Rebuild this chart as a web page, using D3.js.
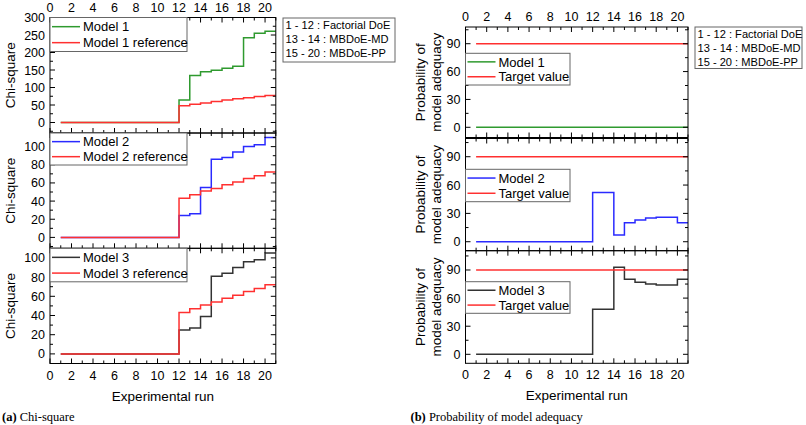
<!DOCTYPE html>
<html><head><meta charset="utf-8">
<script src="https://cdn.jsdelivr.net/npm/d3@7"></script>
<style>
body{margin:0;background:#fff;overflow:hidden;}
svg{display:block;font-family:"Liberation Sans",Arial,sans-serif;}
</style></head><body>
<svg id="chart" width="806" height="425"></svg>
<script>
// ---- data ----
const runs = [1,2,3,4,5,6,7,8,9,10,11,12,13,14,15,16,17,18,19,20];
const xTicks = [0,2,4,6,8,10,12,14,16,18,20];
const chiModel1 = [0,0,0,0,0,0,0,0,0,0,0,64,134,145,149,155,161,242,255,261];
const chiRef1   = [0,0,0,0,0,0,0,0,0,0,0,48,52,56,60,64,68,71,74,77];
const chiModel2 = [0,0,0,0,0,0,0,0,0,0,0,24,26,55,86,88,94,100,102,110];
const chiRef2   = [0,0,0,0,0,0,0,0,0,0,0,43,47,51,54,58,61,65,68,72];
const chiModel3 = [0,0,0,0,0,0,0,0,0,0,0,25,27,39,81,84,90,96,98,105];
const chiRef3   = [0,0,0,0,0,0,0,0,0,0,0,43,47,51,54,58,61,65,68,72];
const probModel1 = [0,0,0,0,0,0,0,0,0,0,0,0,0,0,0,0,0,0,0,0];
const probModel2 = [0,0,0,0,0,0,0,0,0,0,0,52,52,7,20,23,25,26,26,20];
const probModel3 = [0,0,0,0,0,0,0,0,0,0,0,48,48,93,80,77,75,74,74,80];
const targetValue = [90,90,90,90,90,90,90,90,90,90,90,90,90,90,90,90,90,90,90,90];
const chiTicks1 = [0,50,100,150,200,250,300];
const chiTicks23 = [0,20,40,60,80,100];
const probTicks = [0,30,60,90];
const phaseLabels = ["1 - 12 : Factorial DoE","13 - 14 : MBDoE-MD","15 - 20 : MBDoE-PP"];

const C = {green:"#2f9a2f", red:"#ff3030", blue:"#2a2aff", black:"#333333"};

const svg = d3.select("#chart");

// ---- layout ----
const left = {x0:50, x1:275.8};
const right = {x0:465.5, x1:688};

const panels = [
 {side:left, top:17.5, bot:133, dom:[-30,300], ticks:chiTicks1, minor:25,
  series:[{n:"Model 1",v:chiModel1,c:C.green},{n:"Model 1 reference",v:chiRef1,c:C.red}],
  leg:{y:17.5,h:34, w:137}, topLabels:true},
 {side:left, top:133, bot:248.3, dom:[-12,115], ticks:chiTicks23, minor:10,
  series:[{n:"Model 2",v:chiModel2,c:C.blue},{n:"Model 2 reference",v:chiRef2,c:C.red}],
  leg:{y:133,h:32, w:137}},
 {side:left, top:248.3, bot:363.5, dom:[-10,110], ticks:chiTicks23, minor:10,
  series:[{n:"Model 3",v:chiModel3,c:C.black},{n:"Model 3 reference",v:chiRef3,c:C.red}],
  leg:{y:248.3,h:33.5, w:137}, botLabels:true},
 {side:right, top:27, bot:137.5, dom:[-11,108], ticks:probTicks, minor:15,
  series:[{n:"Model 1",v:probModel1,c:C.green},{n:"Target value",v:targetValue,c:C.red}],
  leg:{y:53.3,h:31.7, w:104.5}, topLabels:true},
 {side:right, top:138.5, bot:250.7, dom:[-9.5,109.3], ticks:probTicks, minor:15,
  series:[{n:"Model 2",v:probModel2,c:C.blue},{n:"Target value",v:targetValue,c:C.red}],
  leg:{y:169.3,h:32.4, w:104.5}},
 {side:right, top:250.7, bot:363.3, dom:[-9.6,110.6], ticks:probTicks, minor:15,
  series:[{n:"Model 3",v:probModel3,c:C.black},{n:"Target value",v:targetValue,c:C.red}],
  leg:{y:281.7,h:31.6, w:104.5}, botLabels:true},
];

panels.forEach((p,pi)=>{
  const x = d3.scaleLinear().domain([0,21]).range([p.side.x0,p.side.x1]);
  const y = d3.scaleLinear().domain(p.dom).range([p.bot,p.top]);
  const g = svg.append("g").attr("class","panel"+pi);
  const clipId = "clip"+pi;
  g.append("clipPath").attr("id",clipId).append("rect")
    .attr("x",x(0)).attr("y",p.top).attr("width",x(21)-x(0)).attr("height",p.bot-p.top);

  const line = d3.line().x(d=>x(d[0])).y(d=>y(d[1])).curve(d3.curveStepAfter);
  p.series.forEach(s=>{
    const pts = runs.map((r,i)=>[r,s.v[i]]);
    pts.push([21, s.v[s.v.length-1]]);
    g.append("path").attr("d",line(pts)).attr("fill","none")
      .attr("stroke",s.c).attr("stroke-width",1.5).attr("clip-path",`url(#${clipId})`);
  });

  const xAll = d3.range(0,22,1);
  [p.bot, p.top].forEach((yy,k)=>{
    const dir = k===0 ? -1 : 1;
    xAll.forEach(t=>{
      const len = (t%2===0)?5:3;
      g.append("line").attr("x1",x(t)).attr("x2",x(t)).attr("y1",yy).attr("y2",yy+dir*len)
        .attr("stroke","#000").attr("stroke-width",1);
    });
  });
  const yMinor = d3.range(Math.ceil(p.dom[0]/p.minor)*p.minor, p.dom[1]+0.001, p.minor);
  [x(0), x(21)].forEach((xx,k)=>{
    const dir = k===0 ? 1 : -1;
    yMinor.forEach(t=>{
      const len = p.ticks.includes(t)?5:3;
      g.append("line").attr("x1",xx).attr("x2",xx+dir*len).attr("y1",y(t)).attr("y2",y(t))
        .attr("stroke","#000").attr("stroke-width",1);
    });
  });
  g.append("rect").attr("x",x(0)).attr("y",p.top).attr("width",x(21)-x(0)).attr("height",p.bot-p.top)
    .attr("fill","none").attr("stroke","#000").attr("stroke-width",1);

  p.ticks.forEach(t=>{
    g.append("text").attr("x",x(0)-5).attr("y",y(t)).attr("dy","0.36em")
      .attr("text-anchor","end").attr("font-size",12.5).text(t);
  });
  if(p.topLabels){
    xTicks.forEach(t=>{
      g.append("text").attr("x",x(t)).attr("y",p.top-6).attr("text-anchor","middle")
        .attr("font-size",12.5).text(t);
    });
  }
  if(p.botLabels){
    xTicks.forEach(t=>{
      g.append("text").attr("x",x(t)).attr("y",p.bot+16).attr("text-anchor","middle")
        .attr("font-size",12.5).text(t);
    });
    g.append("text").attr("x",(x(0)+x(21))/2).attr("y",p.bot+37).attr("text-anchor","middle")
      .attr("font-size",13.5).text("Experimental run");
  }

  const cy = (p.top+p.bot)/2;
  if(p.side===left){
    g.append("text").attr("transform",`translate(15,${cy}) rotate(-90)`)
      .attr("text-anchor","middle").attr("font-size",13.5).text("Chi-square");
  } else {
    g.append("text").attr("transform",`translate(425,${cy}) rotate(-90)`)
      .attr("text-anchor","middle").attr("font-size",13.5).text("Probability of");
    g.append("text").attr("transform",`translate(441,${cy}) rotate(-90)`)
      .attr("text-anchor","middle").attr("font-size",13.5).text("model adequacy");
  }

  const lg = g.append("g");
  lg.append("rect").attr("x",x(0)).attr("y",p.leg.y).attr("width",p.leg.w).attr("height",p.leg.h)
    .attr("fill","#fff").attr("stroke","#666").attr("stroke-width",1);
  p.series.forEach((s,i)=>{
    const yy = p.leg.y + p.leg.h*(0.27 + 0.47*i);
    lg.append("line").attr("x1",x(0)+2).attr("x2",x(0)+30).attr("y1",yy).attr("y2",yy)
      .attr("stroke",s.c).attr("stroke-width",1.5);
    lg.append("text").attr("x",x(0)+33).attr("y",yy).attr("dy","0.36em")
      .attr("font-size",13).text(s.n);
  });
});

// phase info boxes (one per sub-figure)
const phaseBoxes = [{x:283,y:18,w:112,h:44},{x:695,y:27,w:107,h:41.5}];
svg.selectAll("g.phase").data(phaseBoxes).join("g").attr("class","phase").each(function(b){
  const g = d3.select(this);
  g.append("rect").attr("x",b.x).attr("y",b.y).attr("width",b.w).attr("height",b.h)
    .attr("fill","#fff").attr("stroke","#666").attr("stroke-width",1);
  phaseLabels.forEach((t,i)=>{
    g.append("text").attr("x",b.x+2.5).attr("y",b.y+7.5+i*13.8).attr("dy","0.36em")
      .attr("font-size",11.1).text(t);
  });
});

// captions
const cap = [{x:2,b:"(a)",t:" Chi-square"},{x:410.5,b:"(b)",t:" Probability of model adequacy"}];
cap.forEach(c=>{
  const t = svg.append("text").attr("x",c.x).attr("y",421)
    .attr("font-family","'Liberation Serif','DejaVu Serif',serif").attr("font-size",12.5);
  t.append("tspan").attr("font-weight","bold").text(c.b);
  t.append("tspan").text(c.t);
});
</script></body></html>
